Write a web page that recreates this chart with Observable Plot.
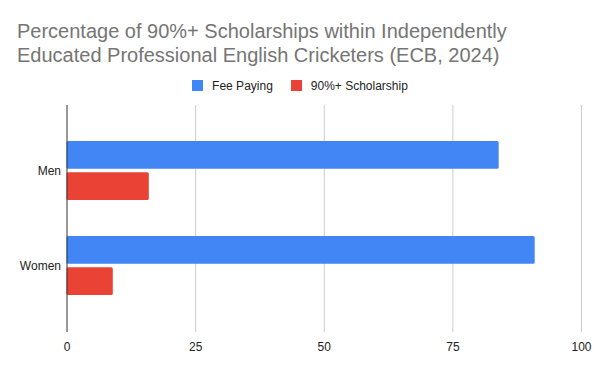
<!DOCTYPE html>
<html>
<head>
<meta charset="utf-8">
<script src="https://cdn.jsdelivr.net/npm/d3@7"></script>
<script src="https://cdn.jsdelivr.net/npm/@observablehq/plot@0.6"></script>
<style>
  html, body { margin: 0; padding: 0; background: #fff; }
  #wrap { position: relative; width: 600px; height: 371px; font-family: Arial, "Liberation Sans", sans-serif; overflow: hidden; }
  #title { position: absolute; left: 17px; top: 19px; font-size: 20px; line-height: 24px; color: #757575; white-space: nowrap; }
  #legend { position: absolute; left: 0; top: 78px; width: 600px; height: 15px; display: flex; justify-content: center; align-items: center; font-size: 12px; color: #222; }
  .item { display: flex; align-items: center; margin: 0 9px; }
  .sw { width: 11px; height: 11px; margin-right: 9px; display: inline-block; }
  #chart { position: absolute; left: 0; top: 95px; }
</style>
</head>
<body>
<div id="wrap">
  <div id="title">Percentage of 90%+ Scholarships within Independently<br>Educated Professional English Cricketers (ECB, 2024)</div>
  <div id="legend"></div>
  <div id="chart"></div>
</div>
<script>
const categories = ["Men", "Women"];
const seriesNames = ["Fee Paying", "90%+ Scholarship"];
const feePaying = [84, 91];
const scholarship = [16, 9];
const xTicks = [0, 25, 50, 75, 100];
const colors = ["#4285f4", "#ea4335"];

const feeData = categories.map((c, i) => ({category: c, value: feePaying[i]}));
const schData = categories.map((c, i) => ({category: c, value: scholarship[i]}));

const legend = document.getElementById("legend");
seriesNames.forEach((s, i) => {
  const it = document.createElement("span");
  it.className = "item";
  it.innerHTML = `<span class="sw" style="background:${colors[i]}"></span><span>${s}</span>`;
  legend.appendChild(it);
});

const plot = Plot.plot({
  width: 600,
  height: 276,
  marginTop: 10,
  marginBottom: 39,
  marginLeft: 66.5,
  marginRight: 19,
  style: {fontFamily: "Arial, 'Liberation Sans', sans-serif", fontSize: "12px", color: "#222", background: "#fff"},
  x: {domain: [0, 100], ticks: xTicks, tickSize: 0, tickPadding: 10, label: null},
  y: {domain: categories, padding: 0.375, tickSize: 0, tickPadding: 6, label: null},
  marks: [
    Plot.ruleX(xTicks.filter(d => d > 0), {stroke: "#cccccc", strokeWidth: 1}),
    Plot.barX(feeData, {y: "category", x: "value", fill: colors[0], insetBottom: 31.3, rx: 1.5}),
    Plot.barX(schData, {y: "category", x: "value", fill: colors[1], insetTop: 31.3, rx: 1.5}),
    Plot.ruleX([0], {stroke: "#333", strokeWidth: 1})
  ]
});
document.getElementById("chart").appendChild(plot);
</script>
</body>
</html>
